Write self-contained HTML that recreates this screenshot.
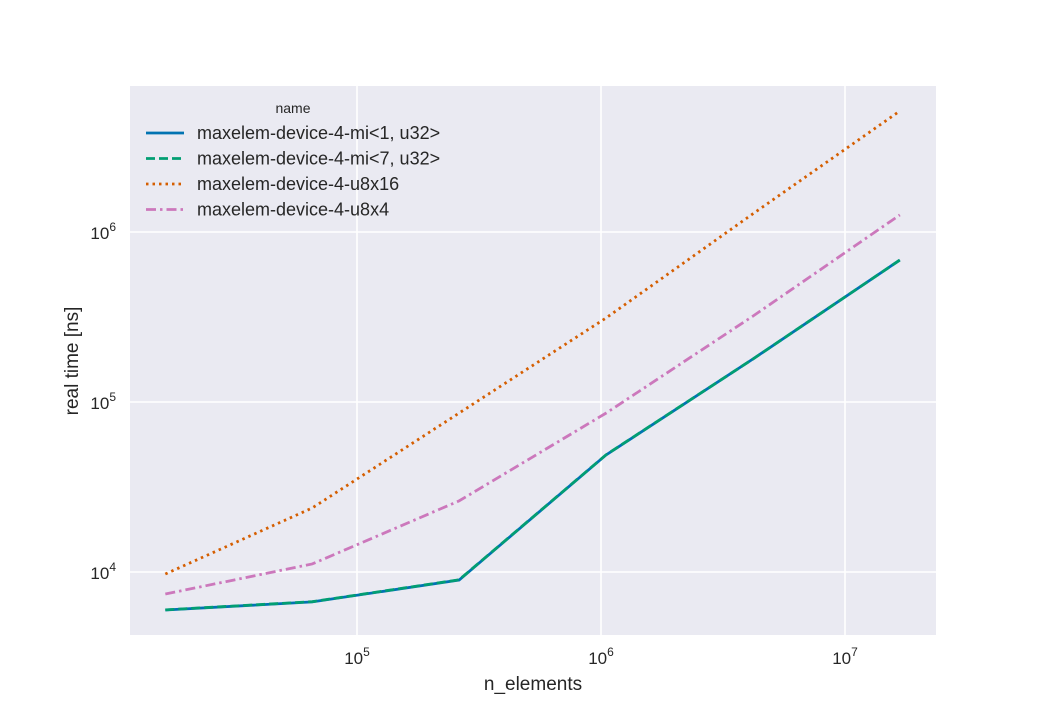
<!DOCTYPE html>
<html><head><meta charset="utf-8"><style>
body{margin:0;background:#fff;}
svg{display:block;font-family:"Liberation Sans",sans-serif;}
</style></head><body>
<svg id="chart" width="1040" height="715">
<rect x="130" y="86" width="806" height="549" fill="#eaeaf2"/>
<g id="grid"></g><g id="series"></g><g id="ticks"></g>
<text x="533" y="690" font-size="19" text-anchor="middle" fill="#262626">n_elements</text>
<text transform="translate(78,361) rotate(-90)" font-size="19" text-anchor="middle" fill="#262626">real time [ns]</text>
<g id="legend">
<text x="293" y="113" font-size="14" text-anchor="middle" fill="#262626">name</text>
</g>
</svg>
<script>
const xs=[16384,65536,262144,1048576,4194304,16777216];
const names=["maxelem-device-4-mi<1, u32>","maxelem-device-4-mi<7, u32>","maxelem-device-4-u8x16","maxelem-device-4-u8x4"];
const s1=[5980,6670,8970,48800,179000,684000];
const s2=[5990,6690,9000,48900,179000,684000];
const s3=[9730,23800,86100,312000,1280000,5150000];
const s4=[7420,11150,26200,86000,320000,1260000];
const series=[s1,s2,s3,s4];
const xTicks=[1e5,1e6,1e7];
const yTicks=[1e4,1e5,1e6];
const colors=["#0173b2","#029e73","#d55e00","#cc78bc"];
const dashes=["","9,4","2.5,4","10,4,2.5,4"];
const X=v=>357+(Math.log10(v)-5)*244;
const Y=v=>572-(Math.log10(v)-4)*170;
const NS="http://www.w3.org/2000/svg";
function mk(t,a,p){const e=document.createElementNS(NS,t);for(const k in a)e.setAttribute(k,a[k]);p.appendChild(e);return e;}
const g=document.getElementById('grid'),tk=document.getElementById('ticks'),sg=document.getElementById('series'),lg=document.getElementById('legend');
xTicks.forEach(v=>{const l=mk('line',{x1:X(v),x2:X(v),y1:86,y2:635,stroke:'#fff','stroke-width':1.6},g);

const t=mk('text',{x:X(v),y:664,'font-size':17,'text-anchor':'middle',fill:'#262626'},tk);

t.innerHTML='10<tspan dy="-8" font-size="12">'+Math.log10(v)+'</tspan>';});
yTicks.forEach(v=>{const l=mk('line',{x1:130,x2:936,y1:Y(v),y2:Y(v),stroke:'#fff','stroke-width':1.6},g);

const t=mk('text',{x:116,y:Y(v)+7,'font-size':17,'text-anchor':'end',fill:'#262626'},tk);

t.innerHTML='10<tspan dy="-8" font-size="12">'+Math.log10(v)+'</tspan>';});
series.forEach((s,i)=>{const p=mk('polyline',{points:s.map((v,j)=>X(xs[j])+','+Y(v)).join(' '),fill:'none',stroke:colors[i],'stroke-width':2.8,'stroke-dasharray':dashes[i]},sg);

const y=133+i*25.5;
const l=mk('line',{x1:146,x2:184,y1:y,y2:y,stroke:colors[i],'stroke-width':2.8,'stroke-dasharray':dashes[i]},lg);

const t=mk('text',{x:197,y:y+6,'font-size':18,fill:'#262626'},lg);

t.textContent=names[i];});
</script>
</body></html>
